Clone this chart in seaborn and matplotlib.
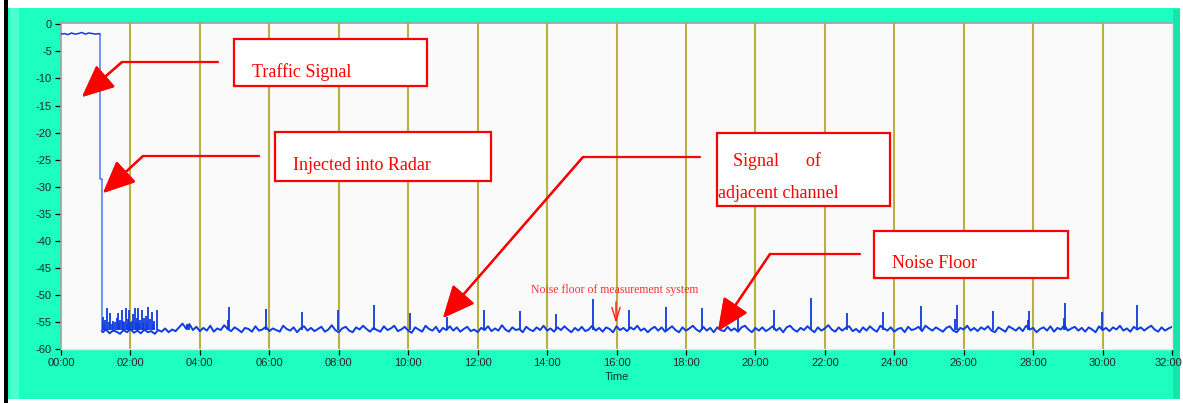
import numpy as np
import pandas as pd
import seaborn as sns
import matplotlib.pyplot as plt
import matplotlib.transforms as mtransforms
from matplotlib.patches import Rectangle
from matplotlib.lines import Line2D

# signal level before the drop (minutes, dB)
head_t = [0.0, 0.1, 0.2, 0.3, 0.4, 0.5, 0.6, 0.7, 0.8, 0.9, 1.0, 1.1, 1.12]
head_v = [-1.8, -1.7, -1.9, -1.6, -1.8, -1.7, -1.5, -1.8, -1.6, -1.7, -1.8, -1.7, -1.8]
# the drop into the noise floor
drop_t = [1.12, 1.12, 1.17, 1.17]
drop_v = [-1.8, -28.6, -28.6, -56.6]

# noise floor, sampled every 0.1 min starting at 1.2 min
floor_start = 1.2
floor_step = 0.1
floor_v = [
    -56.9, -56.4, -57.1, -56.6, -56.8, -57.2, -56.5, -56.9, -56.3, -57.0,
    -56.6, -57.1, -56.4, -56.9, -56.7, -57.2, -56.5, -56.8, -56.2, -56.9,
    -56.4, -56.7, -56.0, -55.3, -56.2, -55.4, -56.5, -55.9, -56.7, -56.1,
    -56.6, -55.7, -56.8, -56.2, -56.5, -55.6, -56.3, -56.7, -56.0, -56.4,
    -56.9, -56.1, -56.3, -56.8, -55.8, -56.6, -56.4, -55.9, -56.7, -56.2,
    -56.5, -56.8, -55.7, -56.3, -56.6, -56.0, -56.9, -56.2, -55.8, -56.6,
    -56.1, -56.7, -56.3, -55.9, -56.8, -56.4, -55.6, -56.5, -56.9, -56.2,
    -55.9, -56.6, -56.9, -56.0, -56.4, -55.7, -56.3, -56.8, -56.1, -56.5,
    -56.8, -55.8, -56.5, -56.2, -55.7, -56.7, -56.4, -55.9, -56.6, -57.0,
    -56.0, -56.4, -56.8, -55.7, -56.3, -56.6, -55.9, -56.9, -56.1, -56.5,
    -55.8, -56.6, -56.0, -56.8, -56.3, -55.9, -56.7, -56.4, -56.9, -56.1,
    -56.5, -55.8, -56.7, -56.2, -56.6, -55.6, -56.4, -56.8, -56.0, -56.5,
    -56.3, -56.9, -55.9, -56.4, -56.7, -56.0, -56.5, -55.7, -56.6, -56.2,
    -56.8, -56.0, -56.5, -55.8, -56.4, -56.9, -56.1, -56.6, -55.9, -56.7,
    -56.4, -55.7, -56.6, -56.1, -56.8, -56.0, -56.3, -56.9, -55.8, -56.5,
    -56.1, -56.7, -56.0, -56.4, -55.7, -56.6, -56.2, -56.9, -56.3, -55.9,
    -56.6, -56.0, -56.8, -56.3, -55.8, -56.5, -56.9, -56.0, -56.6, -56.2,
    -55.7, -56.4, -56.8, -55.9, -56.6, -56.1, -56.9, -56.0, -56.5, -56.7,
    -55.9, -56.6, -56.2, -56.8, -56.0, -55.7, -56.4, -56.9, -56.1, -56.6,
    -56.0, -56.7, -56.3, -55.8, -56.6, -56.1, -56.9, -56.0, -55.7, -56.4,
    -56.8, -56.1, -56.5, -55.8, -56.4, -56.9, -56.0, -56.6, -56.2, -55.6,
    -56.4, -56.8, -56.0, -56.6, -56.1, -55.8, -56.7, -56.3, -56.9, -56.0,
    -56.6, -55.8, -56.4, -56.8, -55.7, -56.2, -56.6, -56.0, -56.8, -56.3,
    -56.1, -56.9, -55.9, -56.5, -56.3, -55.9, -56.7, -55.7, -56.2, -56.6,
    -56.0, -56.4, -56.8, -56.1, -55.8, -56.6, -56.9, -56.1, -56.4, -55.7,
    -56.6, -56.1, -56.7, -56.0, -56.4, -55.8, -56.6, -56.9, -56.0, -56.4,
    -56.8, -55.8, -56.2, -56.6, -56.0, -56.7, -55.7, -56.4, -56.1, -56.9,
    -56.3, -56.0, -56.6, -55.8, -56.8, -56.1, -56.4, -55.6, -56.6, -56.2,
    -55.9, -56.6, -56.1, -56.8, -56.0, -56.4, -56.9, -55.8, -56.5, -56.1,
    -56.7, -56.0, -56.4, -55.7, -56.6, -56.2, -56.8, -55.9, -56.4, -56.0,
    -56.6, -56.1, -55.7, -56.4, -56.8, -56.0, -56.6, -56.2, -55.9,
]

# spikes on top of the floor (minutes, peak dB)
spike_t = [1.20, 1.23, 1.27, 1.33, 1.37, 1.41, 1.46, 1.50, 1.56, 1.60, 1.63, 1.67,
           1.70, 1.75, 1.78, 1.81, 1.86, 1.89, 1.92, 1.97, 2.00, 2.04, 2.08, 2.13,
           2.16, 2.18, 2.23, 2.26, 2.28, 2.32, 2.35, 2.38, 2.44, 2.47, 2.51, 2.56,
           2.61, 2.64, 2.67, 2.76, 3.62, 3.70,
           4.80, 4.84, 5.90, 6.94, 7.98, 9.01, 10.05, 11.12, 12.18, 13.22, 14.27,
           15.31, 16.36, 17.42, 18.46, 19.50, 20.54, 21.60, 22.64, 23.68,
           24.77, 25.76, 25.80, 26.84, 27.85, 27.88, 28.90, 28.93, 29.97, 31.00]
spike_v = [-54.0, -55.5, -54.6, -52.5, -55.0, -53.3, -55.4, -54.8, -55.0, -54.3, -53.3, -55.2,
           -54.6, -52.8, -54.9, -55.0, -52.5, -55.3, -54.4, -52.8, -55.1, -54.9, -53.6, -52.5,
           -55.0, -54.2, -52.5, -55.4, -54.7, -52.8, -55.2, -54.3, -53.9, -55.0, -52.2, -54.5,
           -53.1, -55.3, -54.8, -52.8, -55.3, -55.5,
           -54.6, -52.2, -52.6, -53.2, -52.8, -51.9, -53.3, -54.0, -52.7, -53.0, -53.6,
           -50.8, -52.7, -52.3, -52.5, -52.8, -52.8, -50.6, -53.4, -53.2,
           -52.1, -54.4, -51.9, -52.9, -54.6, -52.9, -54.3, -51.5, -53.2, -51.9]
spike_base = -56.4

x_ticks = list(range(0, 33, 2))
x_ticklabels = ['%02d:00' % m for m in x_ticks]
y_ticks = list(range(0, -65, -5))

W, H = 1183, 403
sns.set_style('white')
plt.rcParams['font.family'] = ['Liberation Sans', 'DejaVu Sans']

fig = plt.figure(figsize=(W / 100, H / 100), dpi=100)
fig.patch.set_facecolor('white')


def fx(x):
    return x / W


def fy(y):
    return 1 - y / H


# frame: black bar on the left, green panel
fig.patches.append(Rectangle((fx(4), 0), fx(4), 1, transform=fig.transFigure,
                             facecolor='black', edgecolor='none', zorder=-3))
fig.patches.append(Rectangle((fx(8), fy(399)), fx(1172), fy(8) - fy(399), transform=fig.transFigure,
                             facecolor='#1cffbe', edgecolor='none', zorder=-3))
fig.patches.append(Rectangle((fx(1173), fy(399)), fx(7), fy(9) - fy(399), transform=fig.transFigure,
                             facecolor='#12e6a8', edgecolor='none', zorder=-2))
fig.patches.append(Rectangle((fx(10), fy(399)), fx(9), fy(8) - fy(399), transform=fig.transFigure,
                             facecolor='#4dffcc', edgecolor='none', zorder=-2))

ax = fig.add_axes([fx(61), fy(349), fx(1172 - 61), fy(23) - fy(349)])
ax.set_facecolor('#fafafa')

floor_t = np.round(floor_start + floor_step * np.arange(len(floor_v)), 2)
head = pd.DataFrame({'t': head_t, 'v': head_v})
floor = pd.DataFrame({'t': floor_t, 'v': floor_v})

for a in x_ticks[1:-1]:
    ax.axvline(a, color='#b8b040', lw=1.5, zorder=1)

blue = '#0f3be0'
sns.lineplot(x=drop_t, y=drop_v, estimator=None, sort=False, color='#4a78f0', lw=1.1, ax=ax, zorder=3)
sns.lineplot(data=head, x='t', y='v', estimator=None, sort=False, color=blue, lw=1.1, ax=ax, zorder=3)
sns.lineplot(data=floor, x='t', y='v', estimator=None, sort=False, color=blue, lw=1.4, ax=ax, zorder=3)
ax.plot([drop_t[-1], floor_t[0]], [drop_v[-1], floor_v[0]], color=blue, lw=1.2, zorder=3)
ax.vlines(spike_t, spike_base, spike_v, color=blue, lw=1.3, zorder=3)

ax.set_xlim(0, 32)
ax.set_ylim(-60, 0.25)
ax.set_xticks(x_ticks)
ax.set_xticklabels(x_ticklabels)
ax.set_yticks(y_ticks)
ax.set_yticklabels([str(v) for v in y_ticks])
ax.tick_params(axis='both', direction='out', length=4.5, width=0.9, color='black',
               labelsize=8, pad=2)
ax.tick_params(axis='y', left=True)
ax.tick_params(axis='x', bottom=True)
# the last label sits at the right edge of the panel
last = ax.get_xticklabels()[-1]
last.set_transform(last.get_transform() + mtransforms.ScaledTranslation(-4 / 100, 0, fig.dpi_scale_trans))
ax.set_xlabel('Time', fontsize=8, labelpad=3)
ax.set_ylabel('')
for s in ['top', 'left']:
    ax.spines[s].set_color('#a0a0a0')
    ax.spines[s].set_linewidth(1.2)
for s in ['right', 'bottom']:
    ax.spines[s].set_color('#e8e8e8')
    ax.spines[s].set_linewidth(1.0)

# annotation boxes and arrows (figure pixel positions)
serif = ['Liberation Serif', 'DejaVu Serif']
boxes = [
    ((234, 39, 427, 86), [('Traffic Signal', 252, 72)]),
    ((275, 132, 491, 181), [('Injected into Radar', 293, 165)]),
    ((717, 133, 890, 206), [('Signal      of', 733, 161), ('adjacent channel', 718, 194)]),
    ((874, 231, 1068, 278), [('Noise Floor', 892, 264)]),
]
for (x0, y0, x1, y1), lines in boxes:
    fig.patches.append(Rectangle((fx(x0), fy(y1)), fx(x1 - x0), fy(y0) - fy(y1),
                                 transform=fig.transFigure, facecolor='white',
                                 edgecolor='#ff0000', lw=1.6, zorder=4))
    for txt, tx, ty in lines:
        fig.text(fx(tx), fy(ty), txt, family=serif, fontsize=13, color='#ff0000',
                 ha='left', va='center', zorder=5)

arrows = [
    ((218, 62), (122, 62), (82, 97)),
    ((259, 156), (143, 156), (103, 193)),
    ((700, 157), (583, 157), (443, 318)),
    ((860, 254), (770, 254), (718, 331)),
]
for (sx, sy), (kx, ky), (tx, ty) in arrows:
    fig.lines.append(Line2D([fx(sx), fx(kx)], [fy(sy), fy(ky)], transform=fig.transFigure,
                            color='#ff0000', lw=1.6, zorder=4))
    fig.add_artist(plt.annotate('', xy=(fx(tx), fy(ty)), xytext=(fx(kx), fy(ky)),
                                xycoords='figure fraction', textcoords='figure fraction',
                                arrowprops=dict(arrowstyle='-|>,head_length=1.0,head_width=0.45',
                                                mutation_scale=20, color='#ff0000', lw=1.6,
                                                shrinkA=0, shrinkB=0)))

fig.text(fx(615), fy(290), 'Noise floor of measurement system', family=serif, fontsize=8.5,
         color='#ff3030', ha='center', va='center')
ax.annotate('', xy=(fx(616), fy(323)), xytext=(fx(616), fy(302)),
            xycoords='figure fraction', textcoords='figure fraction',
            arrowprops=dict(arrowstyle='->,head_length=0.8,head_width=0.25', mutation_scale=12,
                            color='#ff2020', lw=1.0, shrinkA=0, shrinkB=0))

fig.savefig('out.png', dpi=100)
